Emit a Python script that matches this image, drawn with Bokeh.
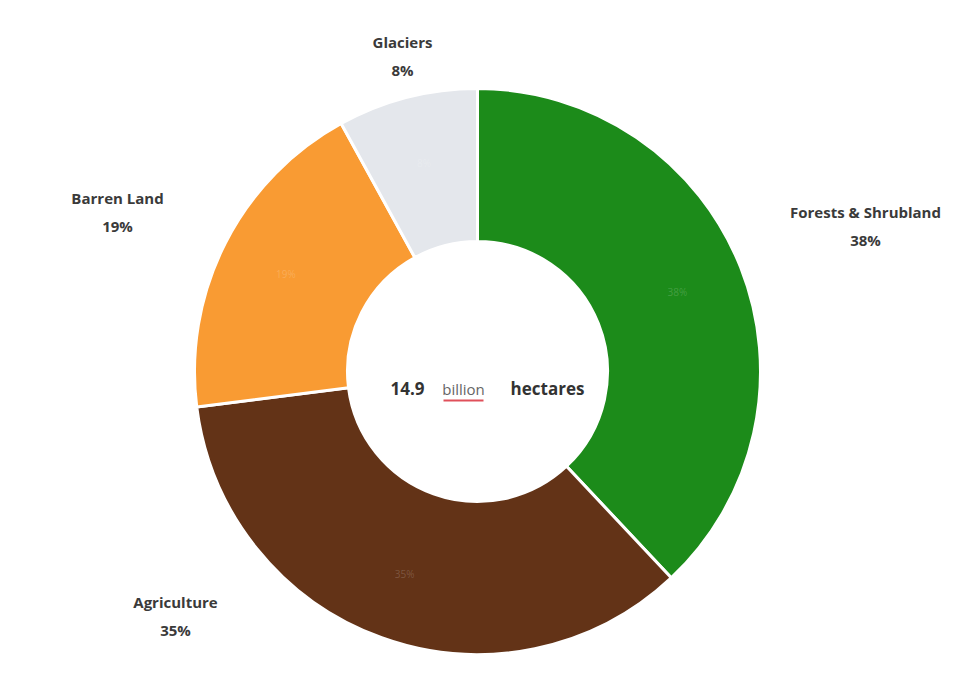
import numpy as np
from bokeh.plotting import figure
from bokeh.models import Range1d, ColumnDataSource
from bokeh.core.properties import value
from bokeh.embed import file_html
from bokeh.resources import INLINE

# ---- data ----
categories = ["Forests & Shrubland", "Agriculture", "Barren Land", "Glaciers"]
shares = [38, 35, 19, 8]
colors = ["#1c8b1a", "#633317", "#f99b33", "#e4e7ec"]

center_number = "14.9"
center_unit = "billion"
center_word = "hectares"

# ---- layout ----
W, H = 956, 657
CX, CY = 477.0, H - 371.0
R_OUT, R_IN = 283, 130

def px(x, y):
    """screen pixel -> data coordinates"""
    return x, H - y

p = figure(width=W, height=H, output_backend="svg", toolbar_location=None,
           x_range=Range1d(0, W), y_range=Range1d(0, H), min_border=0)
p.axis.visible = False
p.grid.visible = False
p.outline_line_color = None
p.background_fill_color = "white"
p.border_fill_color = "white"

vals = np.array(shares, dtype=float)
frac = vals / vals.sum()
cum = np.concatenate([[0.0], np.cumsum(frac)])
a0 = cum[:-1] * 360.0  # clockwise from top, degrees
a1 = cum[1:] * 360.0
start = np.radians(90.0 - a1)
end = np.radians(90.0 - a0)
mid = np.radians(90.0 - (a0 + a1) / 2.0)

src = ColumnDataSource(dict(start=start, end=end, color=colors,
                            x=[CX] * len(vals), y=[CY] * len(vals)))
p.annular_wedge(x="x", y="y", inner_radius=R_IN, outer_radius=R_OUT,
                start_angle="start", end_angle="end", fill_color="color",
                line_color="white", line_width=3, source=src)

# faint inner value labels
r_lab = 215
p.text(x=list(CX + r_lab * np.cos(mid)), y=list(CY + r_lab * np.sin(mid)),
       text=[f"{s}%" for s in shares], text_font=value("Open Sans"),
       text_font_size="10px", text_color="#ffffff", text_alpha=0.18,
       text_align="center", text_baseline="middle")

# outside labels (screen-pixel anchors for each label block)
label_pos = [(865, 225), (175, 615), (117, 211), (402, 55)]
lx, ly1, ly2 = [], [], []
for (x, y) in label_pos:
    dx, dy = px(x, y)
    lx.append(dx)
    ly1.append(dy + 14)
    ly2.append(dy - 14)
p.text(x=lx, y=ly1, text=categories, text_font=value("Open Sans"),
       text_font_size="15px", text_font_style="bold", text_color="#3a3a3a",
       text_align="center", text_baseline="middle")
p.text(x=lx, y=ly2, text=[f"{s}%" for s in shares], text_font=value("Open Sans"),
       text_font_size="15px", text_font_style="bold", text_color="#3a3a3a",
       text_align="center", text_baseline="middle")

# centre text
cy_txt = px(0, 388)[1]
p.text(x=[CX - 70], y=[cy_txt], text=[center_number], text_font=value("Open Sans"),
       text_font_size="17px", text_font_style="bold", text_color="#333333",
       text_align="center", text_baseline="middle")
p.text(x=[CX - 14], y=[cy_txt], text=[center_unit], text_font=value("Open Sans"),
       text_font_size="15px", text_color="#666666",
       text_align="center", text_baseline="middle")
p.segment(x0=[CX - 34], x1=[CX + 6], y0=[cy_txt - 12], y1=[cy_txt - 12],
          line_color="#e0505a", line_width=2)
p.text(x=[CX + 70], y=[cy_txt], text=[center_word], text_font=value("Open Sans"),
       text_font_size="17px", text_font_style="bold", text_color="#333333",
       text_align="center", text_baseline="middle")

open("out.html", "w").write(file_html(p, INLINE))
